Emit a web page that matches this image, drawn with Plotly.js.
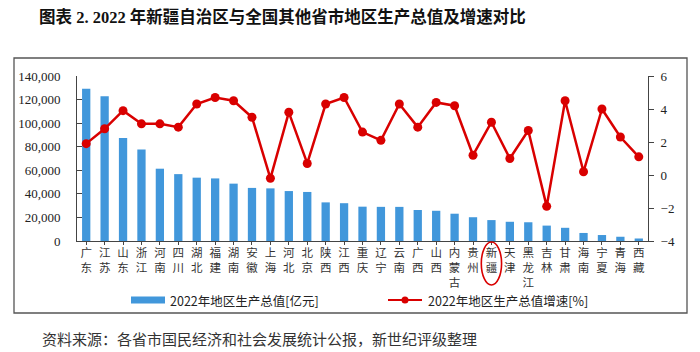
<!DOCTYPE html>
<html><head><meta charset="utf-8">
<script src="https://cdn.plot.ly/plotly-3.0.1.min.js"></script>
<style>html,body{margin:0;padding:0;background:#fff}#chart{width:700px;height:352px}</style>
</head><body><div id="chart"></div>
<script>
const regions = ["广东","江苏","山东","浙江","河南","四川","湖北","福建","湖南","安徽","上海","河北","北京","陕西","江西","重庆","辽宁","云南","广西","山西","内蒙古","贵州","新疆","天津","黑龙江","吉林","甘肃","海南","宁夏","青海","西藏"];
const gdp2022 = [129118.6,122875.6,87435,77715,61345,56749.8,53734.9,53109.9,48670.4,45045,44652.8,42370.4,41610.9,32772.7,32074.7,29129,28975.1,28954.2,26300.9,25642.6,23159,20164.6,17741.3,16311.3,15901,13070.2,11201.6,6818.2,5069.6,3610.1,2132.6];
const growth2022 = [1.9,2.8,3.9,3.1,3.1,2.9,4.3,4.7,4.5,3.5,-0.2,3.8,0.7,4.3,4.7,2.6,2.1,4.3,2.9,4.4,4.2,1.2,3.2,1.0,2.7,-1.9,4.5,0.2,4.0,2.3,1.1];
const leftTicks = [0,20000,40000,60000,80000,100000,120000,140000];
const rightTicks = [-4,-2,0,2,4,6];

const tickText = regions.map(r => r.split('').join('<br>'));
const idx = regions.map((_, i) => i);
const BLUE = '#4197db', RED = '#d90000';

const traces = [
  {type:'bar', x: idx, y: gdp2022, marker:{color:BLUE}, showlegend:false, hoverinfo:'skip'},
  {type:'scatter', mode:'lines+markers', x: idx, y: growth2022, yaxis:'y2',
   line:{color:RED, width:2.5}, marker:{color:RED, size:9}, showlegend:false, hoverinfo:'skip'}
];

const W = 571, H = 165, L = 77, T = 76;
const px = v => (v - L) / W, py = v => 1 - (v - T) / H;
const xi = regions.indexOf('新疆');
const LEG_Y = 300;

const layout = {
  width:700, height:352,
  margin:{l:77, r:52, t:76, b:111},
  paper_bgcolor:'#fff', plot_bgcolor:'#fff',
  bargap:0.55,
  font:{family:'"Noto Sans CJK SC", sans-serif', color:'#222'},
  xaxis:{
    tickmode:'array', tickvals: idx, ticktext: tickText,
    range:[-0.5, regions.length-0.5],
    showline:true, linecolor:'#444', linewidth:1,
    ticks:'outside', tickson:'boundaries', ticklen:3, tickcolor:'#444',
    ticklabelstandoff:-2,
    tickfont:{family:'"Noto Sans CJK SC", sans-serif', size:11.5, color:'#333'},
    showgrid:false, zeroline:false, fixedrange:true
  },
  yaxis:{
    range:[0,140000], tickmode:'array', tickvals: leftTicks,
    tickformat:',', showline:true, linecolor:'#444', linewidth:1,
    ticks:'inside', ticklen:5, tickcolor:'#444',
    ticklabelstandoff:13,
    tickfont:{family:'"Liberation Serif", serif', size:13, color:'#222'},
    showgrid:false, zeroline:false
  },
  yaxis2:{
    overlaying:'y', side:'right', range:[-4,6], tickmode:'array', tickvals: rightTicks,
    showline:true, linecolor:'#444', linewidth:1,
    ticks:'outside', ticklen:5, tickcolor:'#444',
    ticklabelstandoff:4,
    tickfont:{family:'"Liberation Serif", serif', size:13, color:'#222'},
    showgrid:false, zeroline:false
  },
  shapes:[
    {type:'rect', xref:'paper', yref:'paper', x0:px(14), x1:px(687), y0:py(313), y1:py(58),
     line:{color:'#555', width:1.3}, fillcolor:'rgba(0,0,0,0)', layer:'below'},
    {type:'circle', xref:'x', yref:'paper', x0:xi-0.55, x1:xi+0.55, y0:py(285), y1:py(242),
     line:{color:RED, width:1.6}},
    {type:'rect', xref:'paper', yref:'paper', x0:px(131), x1:px(165), y0:py(LEG_Y+3.5), y1:py(LEG_Y-3.5),
     line:{width:0}, fillcolor:BLUE},
    {type:'line', xref:'paper', yref:'paper', x0:px(388), x1:px(422), y0:py(LEG_Y), y1:py(LEG_Y),
     line:{color:RED, width:2.2}},
    {type:'circle', xref:'paper', yref:'paper', x0:px(401.5), x1:px(408.5), y0:py(LEG_Y+3.5), y1:py(LEG_Y-3.5),
     line:{width:0}, fillcolor:RED}
  ],
  annotations:[
    {xref:'paper', yref:'paper', x:px(37), y:py(17), xanchor:'left', yanchor:'middle', showarrow:false,
     text:'<b>图表 2. 2022 年新疆自治区与全国其他省市地区生产总值及增速对比</b>',
     font:{family:'"Liberation Serif", "Noto Sans CJK SC", serif', size:16.5, color:'#111'}},
    {xref:'paper', yref:'paper', x:px(168), y:py(LEG_Y), xanchor:'left', yanchor:'middle', showarrow:false,
     text:'2022年地区生产总值[亿元]', font:{family:'"Noto Sans CJK SC", sans-serif', size:12.5, color:'#222'}},
    {xref:'paper', yref:'paper', x:px(426), y:py(LEG_Y), xanchor:'left', yanchor:'middle', showarrow:false,
     text:'2022年地区生产总值增速[%]', font:{family:'"Noto Sans CJK SC", sans-serif', size:12.5, color:'#222'}},
    {xref:'paper', yref:'paper', x:px(40), y:py(338), xanchor:'left', yanchor:'middle', showarrow:false,
     text:'资料来源：各省市国民经济和社会发展统计公报，新世纪评级整理',
     font:{family:'"Noto Sans CJK SC", sans-serif', size:15, color:'#333'}}
  ]
};

Plotly.newPlot('chart', traces, layout, {displayModeBar:false, staticPlot:true});
</script></body></html>
